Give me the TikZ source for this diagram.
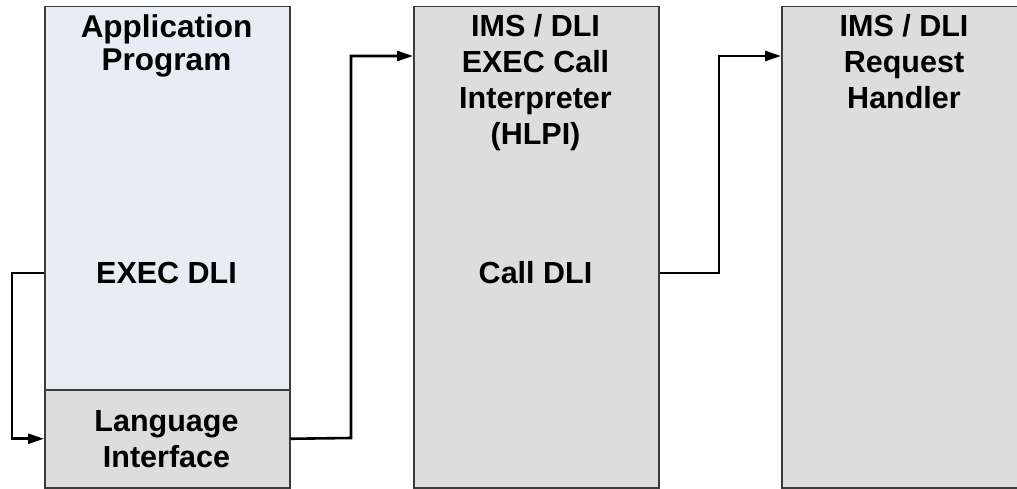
\documentclass[tikz,border=0pt]{standalone}
\usepackage{fontspec}
\setmainfont{Liberation Sans}
\usetikzlibrary{arrows.meta}
\definecolor{appblue}{RGB}{232,236,245}
\definecolor{imsgray}{RGB}{221,221,221}
\definecolor{edgegray}{RGB}{60,60,60}
\tikzset{
  panel/.style={draw=edgegray, line width=1.5pt, anchor=north west, inner sep=0pt},
  label/.style={font=\fontsize{30.5}{36}\selectfont\bfseries, align=center, inner sep=0pt},
  flow/.style={line width=2.6pt, -{Triangle[length=16pt,width=10pt]}}
}
\begin{document}
\begin{tikzpicture}[x=1pt, y=-1pt]
\useasboundingbox (0,0) rectangle (1017,489);
\node[panel, fill=appblue, minimum width=245pt, minimum height=383pt] (app) at (44,6) {};
\node[panel, fill=imsgray, minimum width=245pt, minimum height=98pt] (lang) at (44,389) {};
\node[panel, fill=imsgray, minimum width=245pt, minimum height=481pt] (hlpi) at (413,6) {};
\node[panel, fill=imsgray, minimum width=246pt, minimum height=481pt] (handler) at (781,6) {};
\node[label, anchor=north, font=\fontsize{31.5}{33.5}\selectfont\bfseries] (apptitle) at (166.5,14) {Application\\Program};
\node[label] (exec) at (166.5,273) {EXEC DLI};
\node[label, anchor=north] (langtitle) at (166.5,410) {Language\\Interface};
\node[label, anchor=north] (hlpititle) at (535.5,14) {IMS / DLI\\EXEC Call\\Interpreter\\(HLPI)};
\node[label] (call) at (535.5,273) {Call DLI};
\node[label, anchor=north] (handlertitle) at (904,14) {IMS / DLI\\Request\\Handler};
\coordinate (in2) at (413,56);
\coordinate (in3) at (781,56);
\draw[flow] (app.west |- exec) -- ++(-32,0) |- (lang.west);
\draw[flow] (lang.east) -- (351,438) |- (in2);
\draw[flow] (hlpi.east |- call) -- (719,273) |- (in3);
\end{tikzpicture}
\end{document}
